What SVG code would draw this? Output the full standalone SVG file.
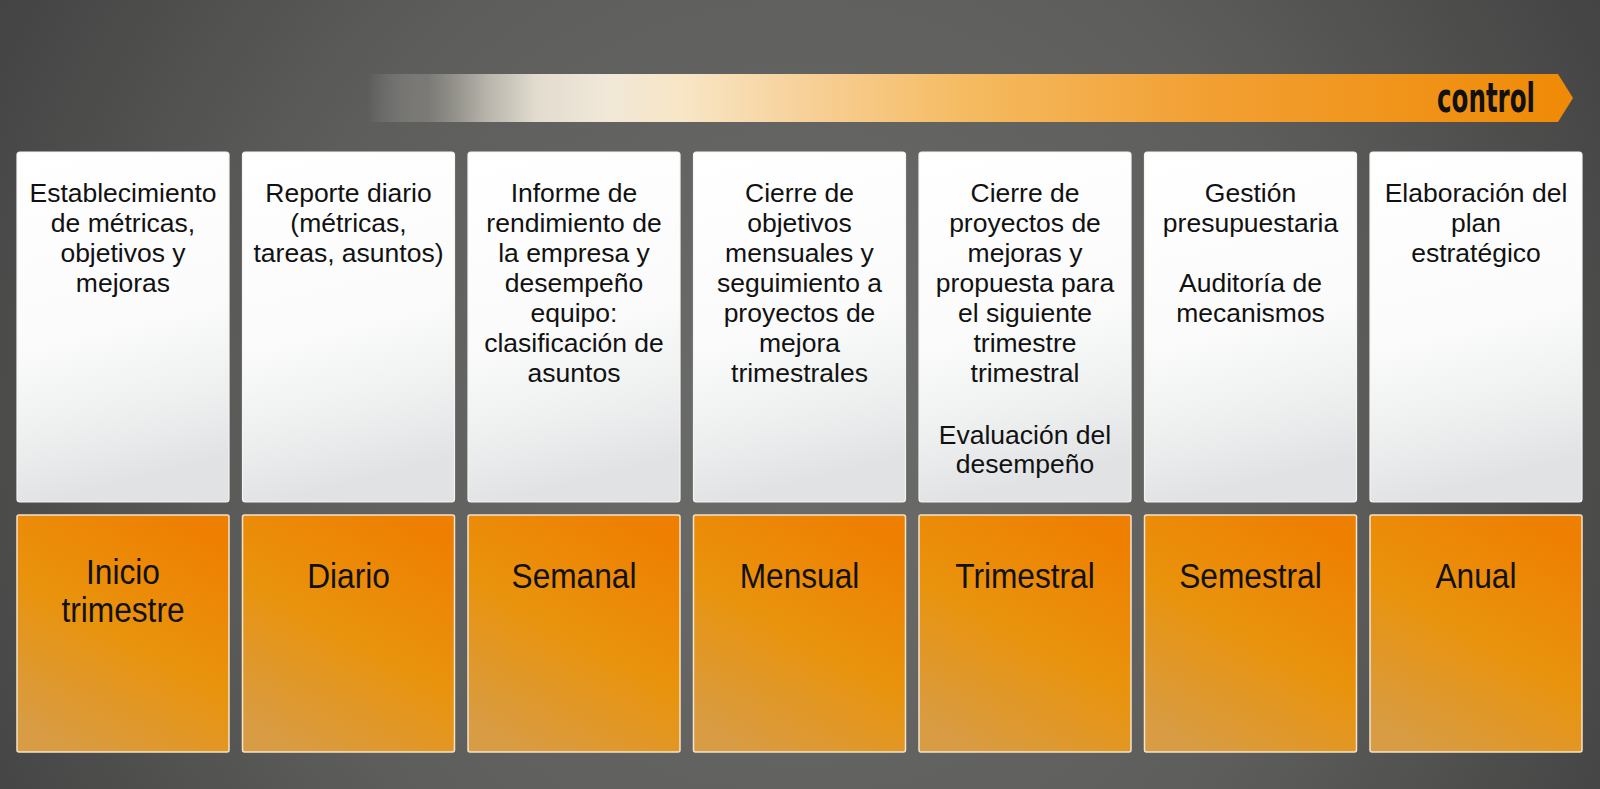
<svg xmlns="http://www.w3.org/2000/svg" width="1600" height="789" viewBox="0 0 1600 789">
<defs>
  <radialGradient id="bg" cx="800" cy="430" r="900" gradientUnits="userSpaceOnUse">
    <stop offset="0" stop-color="#6c6c6a"/>
    <stop offset="0.6" stop-color="#5d5d5b"/>
    <stop offset="1" stop-color="#444444"/>
  </radialGradient>
  <linearGradient id="arrowGrad" x1="367" y1="0" x2="1573" y2="0" gradientUnits="userSpaceOnUse">
    <stop offset="0" stop-color="#ffffff" stop-opacity="0"/>
    <stop offset="0.05" stop-color="#b0aca4" stop-opacity="0.35"/>
    <stop offset="0.1" stop-color="#c9c4ba" stop-opacity="0.85"/>
    <stop offset="0.14" stop-color="#e2dccf"/>
    <stop offset="0.2" stop-color="#f1e8d8"/>
    <stop offset="0.26" stop-color="#f8e6c6"/>
    <stop offset="0.36" stop-color="#f7d19a"/>
    <stop offset="0.5" stop-color="#f5ba60"/>
    <stop offset="0.7" stop-color="#f29f32"/>
    <stop offset="1" stop-color="#ef8a05"/>
  </linearGradient>
  <linearGradient id="cardGrad" x1="0" y1="0" x2="0.15" y2="1">
    <stop offset="0" stop-color="#ffffff"/>
    <stop offset="0.55" stop-color="#fbfbfb"/>
    <stop offset="0.8" stop-color="#eef0f0"/>
    <stop offset="1" stop-color="#e0e2e4"/>
  </linearGradient>
  <linearGradient id="orangeGrad" x1="0.75" y1="0" x2="0.25" y2="1">
    <stop offset="0" stop-color="#ef7f00"/>
    <stop offset="0.5" stop-color="#e9930c"/>
    <stop offset="1" stop-color="#d89c44"/>
  </linearGradient>
  <style>
    .card { fill: url(#cardGrad); stroke: #f4f4f4; stroke-width: 1.2; }
    .period { fill: url(#orangeGrad); stroke: #f4e4cc; stroke-width: 1.5; }
    .desc { font-family: "Liberation Sans", Arial, sans-serif; font-size: 26.5px; fill: #111111; text-anchor: middle; }
    .lbl { font-family: "Liberation Sans", Arial, sans-serif; font-size: 36px; fill: #111111; text-anchor: middle; }
    .ctrl { font-family: "DejaVu Sans Condensed", "DejaVu Sans", sans-serif; font-weight: bold; font-size: 34px; fill: #111111; }
  </style>
</defs>
<rect x="0" y="0" width="1600" height="789" fill="url(#bg)"/>

<g id="control-arrow">
  <polygon points="367,74 1558,74 1573,98 1558,122 367,122" fill="url(#arrowGrad)"/>
  <text class="ctrl" transform="translate(1437,112) scale(1,1.2)" x="0" y="0" textLength="98" lengthAdjust="spacingAndGlyphs">control</text>
</g>

<g id="connectors"></g>

<g id="col1">
  <rect class="card" x="17" y="152" width="212" height="350" rx="3"/>
  <text class="desc" x="123" y="202">Establecimiento<tspan x="123" dy="30">de métricas,</tspan><tspan x="123" dy="30">objetivos y</tspan><tspan x="123" dy="30">mejoras</tspan></text>
  <rect class="period" x="17" y="515" width="212" height="237" rx="2"/>
  <text class="lbl" transform="translate(123,0) scale(0.88,1)" x="0" y="584">Inicio<tspan x="0" dy="38">trimestre</tspan></text>
</g>

<g id="col2">
  <rect class="card" x="242.5" y="152" width="212" height="350" rx="3"/>
  <text class="desc" x="348.5" y="202">Reporte diario<tspan x="348.5" dy="30">(métricas,</tspan><tspan x="348.5" dy="30">tareas, asuntos)</tspan></text>
  <rect class="period" x="242.5" y="515" width="212" height="237" rx="2"/>
  <text class="lbl" transform="translate(348.5,0) scale(0.88,1)" x="0" y="588">Diario</text>
</g>

<g id="col3">
  <rect class="card" x="468" y="152" width="212" height="350" rx="3"/>
  <text class="desc" x="574" y="202">Informe de<tspan x="574" dy="30">rendimiento de</tspan><tspan x="574" dy="30">la empresa y</tspan><tspan x="574" dy="30">desempeño</tspan><tspan x="574" dy="30">equipo:</tspan><tspan x="574" dy="30">clasificación de</tspan><tspan x="574" dy="30">asuntos</tspan></text>
  <rect class="period" x="468" y="515" width="212" height="237" rx="2"/>
  <text class="lbl" transform="translate(574,0) scale(0.88,1)" x="0" y="588">Semanal</text>
</g>

<g id="col4">
  <rect class="card" x="693.5" y="152" width="212" height="350" rx="3"/>
  <text class="desc" x="799.5" y="202">Cierre de<tspan x="799.5" dy="30">objetivos</tspan><tspan x="799.5" dy="30">mensuales y</tspan><tspan x="799.5" dy="30">seguimiento a</tspan><tspan x="799.5" dy="30">proyectos de</tspan><tspan x="799.5" dy="30">mejora</tspan><tspan x="799.5" dy="30">trimestrales</tspan></text>
  <rect class="period" x="693.5" y="515" width="212" height="237" rx="2"/>
  <text class="lbl" transform="translate(799.5,0) scale(0.88,1)" x="0" y="588">Mensual</text>
</g>

<g id="col5">
  <rect class="card" x="919" y="152" width="212" height="350" rx="3"/>
  <text class="desc" x="1025" y="202">Cierre de<tspan x="1025" dy="30">proyectos de</tspan><tspan x="1025" dy="30">mejoras y</tspan><tspan x="1025" dy="30">propuesta para</tspan><tspan x="1025" dy="30">el siguiente</tspan><tspan x="1025" dy="30">trimestre</tspan><tspan x="1025" dy="30">trimestral</tspan><tspan x="1025" dy="62">Evaluación del</tspan><tspan x="1025" dy="29">desempeño</tspan></text>
  <rect class="period" x="919" y="515" width="212" height="237" rx="2"/>
  <text class="lbl" transform="translate(1025,0) scale(0.88,1)" x="0" y="588">Trimestral</text>
</g>

<g id="col6">
  <rect class="card" x="1144.5" y="152" width="212" height="350" rx="3"/>
  <text class="desc" x="1250.5" y="202">Gestión<tspan x="1250.5" dy="30">presupuestaria</tspan><tspan x="1250.5" dy="60">Auditoría de</tspan><tspan x="1250.5" dy="30">mecanismos</tspan></text>
  <rect class="period" x="1144.5" y="515" width="212" height="237" rx="2"/>
  <text class="lbl" transform="translate(1250.5,0) scale(0.88,1)" x="0" y="588">Semestral</text>
</g>

<g id="col7">
  <rect class="card" x="1370" y="152" width="212" height="350" rx="3"/>
  <text class="desc" x="1476" y="202">Elaboración del<tspan x="1476" dy="30">plan</tspan><tspan x="1476" dy="30">estratégico</tspan></text>
  <rect class="period" x="1370" y="515" width="212" height="237" rx="2"/>
  <text class="lbl" transform="translate(1476,0) scale(0.88,1)" x="0" y="588">Anual</text>
</g>
</svg>
